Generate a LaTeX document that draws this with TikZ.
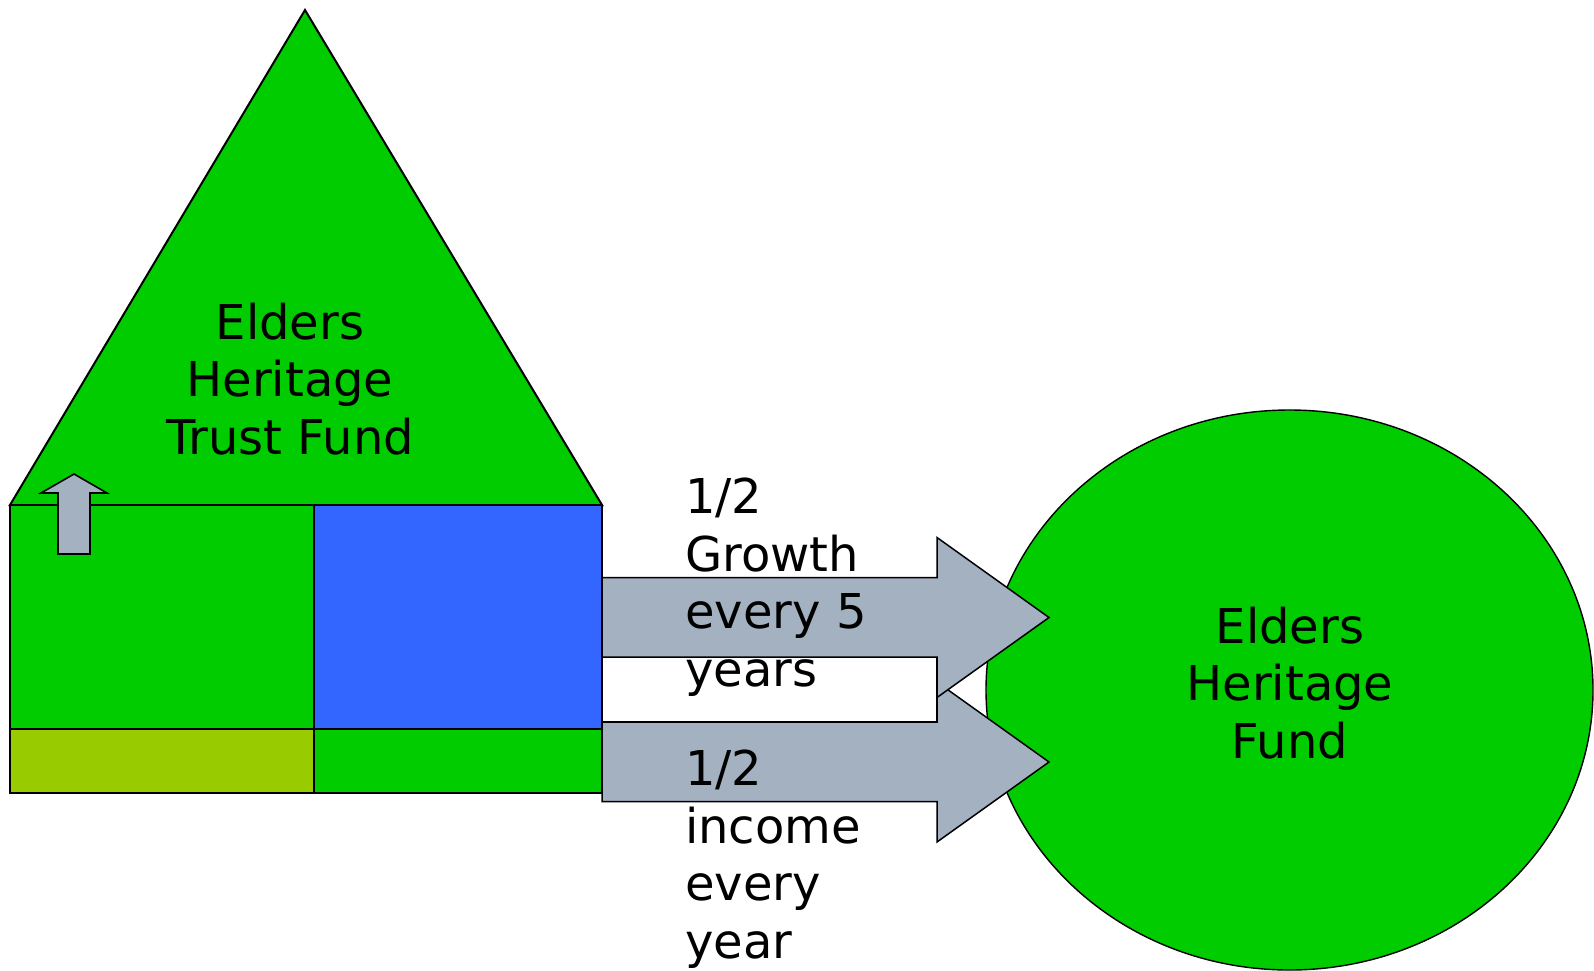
\documentclass[tikz,border=0pt]{standalone}
\usepackage{fontspec}
\setmainfont{DejaVu Sans}
\definecolor{leafgreen}{HTML}{00CC00}
\definecolor{vaultblue}{HTML}{3366FF}
\definecolor{olivebase}{HTML}{99CC00}
\definecolor{flowgray}{HTML}{A3B1C0}
\tikzset{
  wall/.style={draw=black, line width=2pt},
  flow/.style={draw=black, fill=flowgray, line width=1.5pt, line join=miter},
  caption/.style={inner sep=0pt, font=\fontsize{48}{57.5}\selectfont, text=black},
}
\begin{document}
\begin{tikzpicture}[x=1pt, y=-1pt]
  \useasboundingbox (0,0) rectangle (1594,970);

  % roof
  \path[wall, fill=leafgreen] (10,505) -- (305,10) -- (602,505) -- cycle;
  % body of the house
  \path[wall, fill=leafgreen]  (10,505)  rectangle (314,729);
  \path[wall, fill=vaultblue]  (314,505) rectangle (602,729);
  \path[wall, fill=olivebase]  (10,729)  rectangle (314,793);
  \path[wall, fill=leafgreen]  (314,729) rectangle (602,793);

  % small upward arrow
  \path[flow, line width=1.6pt] (58,554) -- (58,493) -- (41,493) -- (74,474)
        -- (107,493) -- (90,493) -- (90,554) -- cycle;

  % fund circle
  \path[draw=black, fill=leafgreen, line width=1.4pt] (1289.5,690) ellipse [x radius=303.5, y radius=280];

  % gap between the two flows
  \path[draw=black, fill=white, line width=1.5pt] (602,657) rectangle (937,722);

  % lower flow: income
  \path[flow] (602,722) -- (937,722) -- (937,682) -- (1049,762) -- (937,842)
        -- (937,801.5) -- (602,801.5) -- cycle;
  % upper flow: growth
  \path[flow] (602,577.5) -- (937,577.5) -- (937,537.5) -- (1049,617.5) -- (937,697.5)
        -- (937,657) -- (602,657) -- cycle;

  % labels (base anchor sits on the last line)
  \node[caption, align=center, anchor=base] (trust) at (290,454)
    {Elders\\Heritage\\Trust Fund};
  \node[caption, align=left, anchor=base west] (growth) at (685,686)
    {1/2\\Growth\\every 5\\years};
  \node[caption, align=left, anchor=base west] (income) at (685,958)
    {1/2\\income\\every\\year};
  \node[caption, align=center, anchor=base] (fund) at (1290,758)
    {Elders\\Heritage\\Fund};
\end{tikzpicture}
\end{document}
